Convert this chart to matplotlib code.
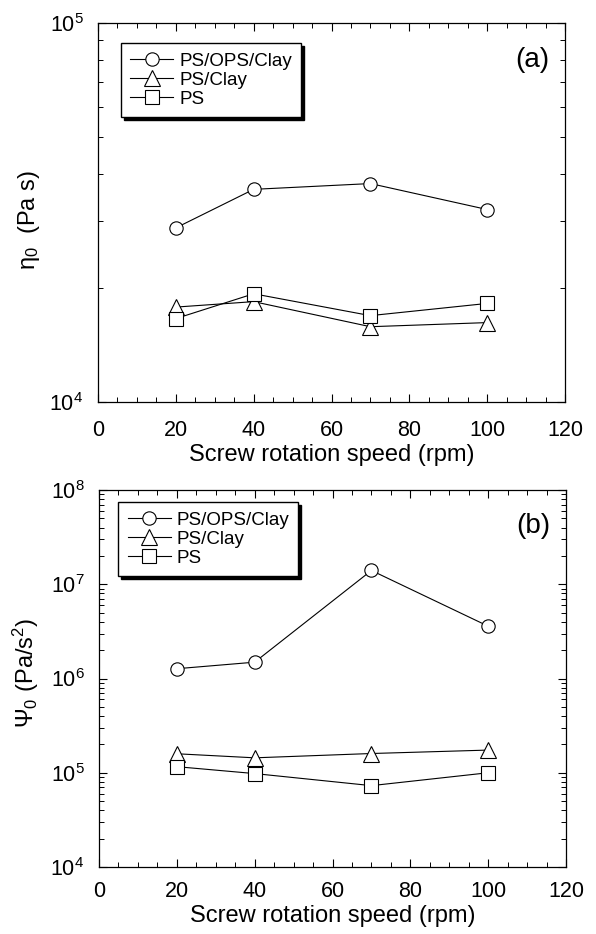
import numpy as np
import matplotlib.pyplot as plt
from matplotlib.ticker import MultipleLocator, LogLocator, NullFormatter

plt.rcParams.update({
    'font.family': ['Liberation Sans', 'DejaVu Sans'],
    'mathtext.fontset': 'custom',
    'mathtext.rm': 'Liberation Sans',
    'mathtext.it': 'Liberation Sans:italic',
    'xtick.direction': 'in',
    'ytick.direction': 'in',
    'xtick.top': True,
    'ytick.right': True,
})

# Data
speed = [20, 40, 70, 100]
labels = ['PS/OPS/Clay', 'PS/Clay', 'PS']
markers = ['o', '^', 's']
msizes = [9.6, 11, 10]

eta_ops_clay = [2.88e4, 3.64e4, 3.77e4, 3.22e4]
eta_clay = [1.78e4, 1.84e4, 1.58e4, 1.62e4]
eta_ps = [1.66e4, 1.93e4, 1.69e4, 1.82e4]

psi_ops_clay = [1.27e6, 1.49e6, 1.40e7, 3.59e6]
psi_clay = [1.59e5, 1.44e5, 1.60e5, 1.74e5]
psi_ps = [1.16e5, 9.8e4, 7.3e4, 1.0e5]

panels = [
    ([eta_ops_clay, eta_clay, eta_ps], (1e4, 1e5), 'η$_0$  (Pa s)', '(a)'),
    ([psi_ops_clay, psi_clay, psi_ps], (1e4, 1e8), 'Ψ$_0$ (Pa/s$^2$)', '(b)'),
]

fig = plt.figure(figsize=(5.96, 9.34), dpi=100)
W, H = 596, 934
rects = [[98/W, 1-402/H, 467/W, 379/H],
         [99/W, 1-867/H, 467/W, 377/H]]
leg_pos = [(0.049, 0.947), (0.041, 0.968)]
tag_pos = [(0.929, 0.902), (0.931, 0.904)]
ylab_pos = [(-0.12, 0.48), (-0.125, 0.515)]
xpads = [13, 10]

for i, (series, ylim, ylab, tag) in enumerate(panels):
    ax = fig.add_axes(rects[i])
    for ys, lab, mk, ms in zip(series, labels, markers, msizes):
        ax.plot(speed, ys, color='black', lw=0.8, marker=mk, ms=ms,
                mfc='white', mec='black', mew=0.8, label=lab)
    ax.set_yscale('log')
    ax.set_xlim(0, 120)
    ax.set_ylim(*ylim)
    ax.xaxis.set_major_locator(MultipleLocator(20))
    ax.xaxis.set_minor_locator(MultipleLocator(5))
    ax.yaxis.set_major_locator(LogLocator(base=10, numticks=10))
    ax.yaxis.set_minor_locator(LogLocator(base=10, subs=np.arange(2, 10), numticks=20))
    ax.yaxis.set_minor_formatter(NullFormatter())
    ax.tick_params(which='major', length=6, width=0.8, labelsize=15.5)
    ax.tick_params(which='minor', length=3.5, width=0.7)
    ax.tick_params(axis='x', which='major', pad=xpads[i])
    ax.tick_params(axis='y', which='major', pad=10.5)
    for sp in ax.spines.values():
        sp.set_linewidth(0.9)
    ax.set_xlabel('Screw rotation speed (rpm)', fontsize=17, labelpad=2)
    ax.set_ylabel(ylab, fontsize=17)
    ax.yaxis.set_label_coords(*ylab_pos[i])
    ax.text(*tag_pos[i], tag, transform=ax.transAxes, ha='center', va='center', fontsize=20)
    leg = ax.legend(loc='upper left', bbox_to_anchor=leg_pos[i], fontsize=13.5,
                    frameon=True, fancybox=False, shadow={'color': 'black', 'alpha': 1},
                    edgecolor='black', handlelength=2.3, handletextpad=0.3,
                    labelspacing=0.1, borderpad=0.5, borderaxespad=0)
    leg.get_frame().set_linewidth(1.0)

fig.savefig('out.png', dpi=100)
